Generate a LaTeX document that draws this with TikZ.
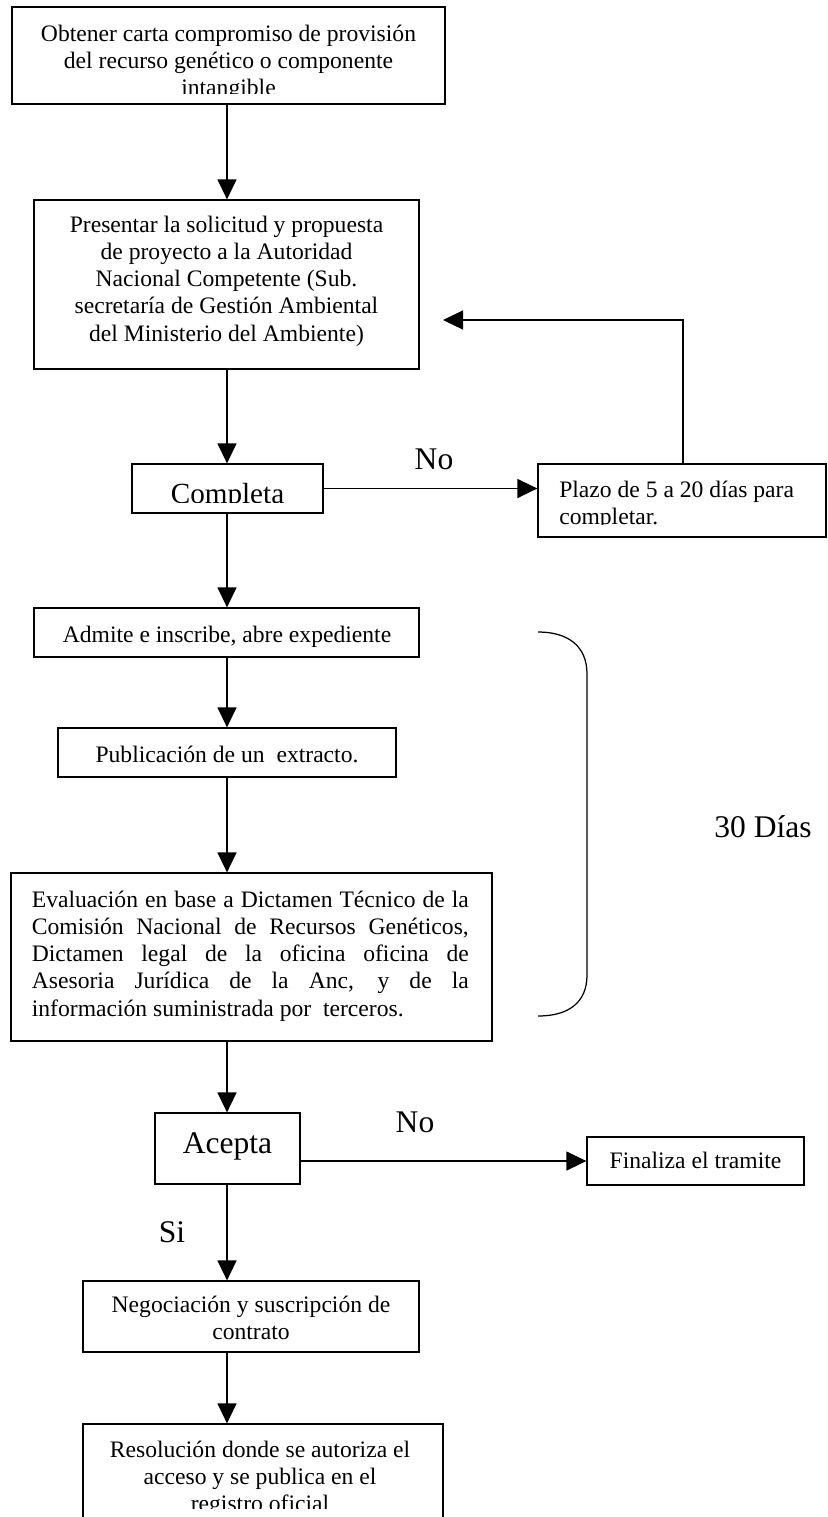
\documentclass[tikz,border=0pt]{standalone}
\usepackage{fontspec}
\setmainfont{Liberation Serif}
\usetikzlibrary{arrows.meta,calc}
\tikzset{
 box/.style={draw, line width=0.9pt, inner sep=0pt, rectangle},
 txt/.style={inner sep=0pt, font=\fontsize{17}{19.6}\selectfont},
 big/.style={inner sep=0pt, font=\fontsize{22.7}{26}\selectfont},
 mid/.style={inner sep=0pt, font=\fontsize{21}{24}\selectfont},
 arr/.style={line width=0.9pt, -{Triangle[length=14.4pt,width=13.7pt]}},
 brace/.style={line width=0.9pt},
}
\newcommand\bx[5]{\node[box, minimum width={(#4-#2)*0.72pt}, minimum height={(#5-#3)*0.72pt}] (#1) at ({(#2+#4)/2},{(#3+#5)/2}) {};}
\newcommand\tstrut{\rule{0pt}{1em}}
\newcommand\jl[1]{\makebox[314.6pt][s]{#1}}
\begin{document}
\begin{tikzpicture}[x=0.72pt,y=-0.72pt]
\path[fill=white,use as bounding box] (0,0) rectangle (827,1517);
% boxes
\bx{b1}{12}{7}{445}{104}
\bx{b2}{34}{200}{419}{369}
\bx{comp}{132}{464}{323}{513}
\bx{plazo}{538}{464}{826}{537}
\bx{admite}{34}{608}{419}{657}
\bx{pub}{58}{728}{396}{777}
\bx{eval}{11}{873}{492}{1041}
\bx{acepta}{155}{1113}{300}{1184}
\bx{fin}{587}{1137}{804}{1185}
\bx{neg}{83}{1281}{419}{1352}
\bx{res}{83}{1424}{443}{1545}
% texts
\begin{scope}
\clip (12,7) rectangle (445,93.5);
\node[txt, align=center, anchor=north] (t1) at (228.5,{41-23.61}) {\tstrut Obtener carta compromiso de provisión\\del recurso genético o componente\\intangible};
\end{scope}
\node[txt, align=center, anchor=north] (t2) at (226.5,{232-23.61}) {\tstrut Presentar la solicitud y propuesta\\de proyecto a la Autoridad\\Nacional Competente (Sub.\\secretaría de Gestión Ambiental\\del Ministerio del Ambiente)};
\begin{scope}
\clip (132,464) rectangle (323,502);
\node[mid, anchor=base] (t3) at (227.5,503) {Completa};
\end{scope}
\begin{scope}
\clip (538,464) rectangle (826,524.5);
\node[txt, align=left, anchor=north west] (t4) at (559,{497-23.61}) {\tstrut Plazo de 5 a 20 días para\\completar.};
\end{scope}
\node[txt, anchor=base] (t5) at (227,642) {Admite e inscribe, abre expediente};
\node[txt, anchor=base] (t6) at (227,762) {Publicación de un\ \ extracto.};
\node[txt, align=left, anchor=north west] (t7) at (31.6,{907-23.61}) {\tstrut\jl{Evaluación en base a Dictamen Técnico de la}\\\jl{Comisión Nacional de Recursos Genéticos,}\\\jl{Dictamen legal de la oficina oficina de}\\\jl{Asesoria Jurídica de la Anc, y de la}\\información suministrada por\ \ terceros.};
\node[big, anchor=base] (t8) at (227.5,1153) {Acepta};
\node[txt, anchor=base] (t9) at (695.5,1168) {Finaliza el tramite};
\node[txt, align=center, anchor=north] (t10) at (251,{1312-23.61}) {\tstrut Negociación y suscripción de\\contrato};
\begin{scope}
\clip (83,1424) rectangle (443,1508);
\node[txt, align=center, anchor=north] (t11) at (260,{1457-23.61}) {\tstrut Resolución donde se autoriza el\\acceso y se publica en el\\registro oficial};
\end{scope}
% labels
\node[big, anchor=base] (no1) at (434,469) {No};
\node[big, anchor=base] (no2) at (415,1132) {No};
\node[big, anchor=base] (si) at (172,1242) {Si};
\node[big, anchor=base] (dias) at (763,837) {30 Días};
% connectors
\coordinate (ax) at (227,0);
\coordinate (fbx) at (683,0);
\coordinate (fb) at (443,320);
\draw[arr] (b1.south -| ax) -- (b2.north -| ax);
\draw[arr] (b2.south -| ax) -- (comp.north -| ax);
\draw[arr] (comp.south -| ax) -- (admite.north -| ax);
\draw[arr] (admite.south -| ax) -- (pub.north -| ax);
\draw[arr] (pub.south -| ax) -- (eval.north -| ax);
\draw[arr] (eval.south -| ax) -- (acepta.north -| ax);
\draw[arr] (acepta.south -| ax) -- (neg.north -| ax);
\draw[arr] (neg.south -| ax) -- (res.north -| ax);
\draw[arr] (comp.east) -- (comp.east -| plazo.west);
\draw[arr] (plazo.north -| fbx) |- (fb);
\draw[arr] (acepta.east |- fin.west) -- (fin.west);
% brace
\draw[brace] (538,632) .. controls (568,632) and (587,646) .. (587,674) -- (587,975) .. controls (587,1003) and (568,1016) .. (538,1016);
\end{tikzpicture}
\end{document}
